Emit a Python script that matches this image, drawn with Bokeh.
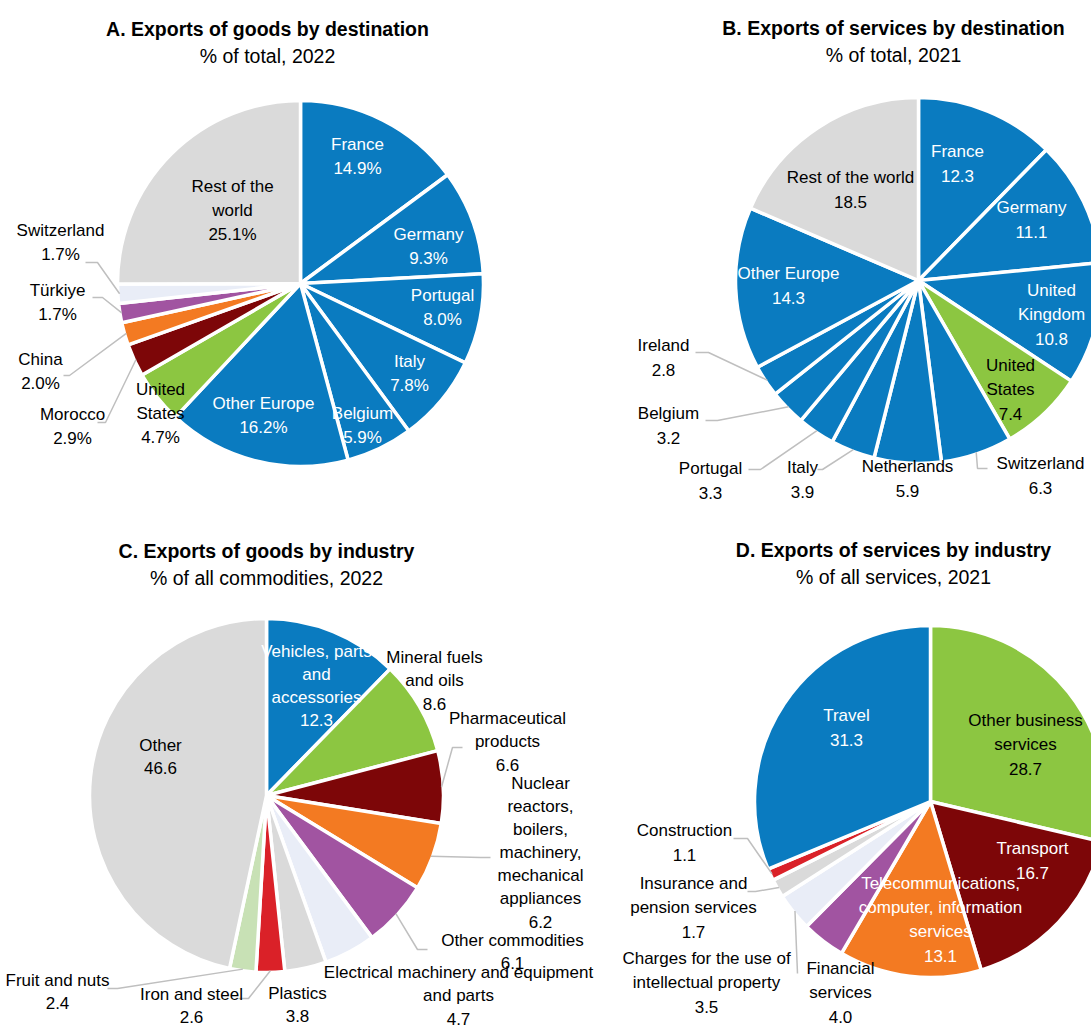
import math
from bokeh.plotting import figure
from bokeh.models import Range1d, ColumnDataSource
from bokeh.core.properties import value
from bokeh.embed import file_html
from bokeh.resources import INLINE

# ---------------- data ----------------
a_names = ["France", "Germany", "Portugal", "Italy", "Belgium", "Other Europe",
           "United\nStates", "Morocco", "China", "Türkiye", "Switzerland", "Rest of the\nworld"]
a_values = [14.9, 9.3, 8.0, 7.8, 5.9, 16.2, 4.7, 2.9, 2.0, 1.7, 1.7, 25.1]

b_names = ["France", "Germany", "United\nKingdom", "United\nStates", "Switzerland", "Netherlands",
           "Italy", "Portugal", "Belgium", "Ireland", "Other Europe", "Rest of the world"]
b_values = [12.3, 11.1, 10.8, 7.4, 6.3, 5.9, 3.9, 3.3, 3.2, 2.8, 14.3, 18.5]

c_names = ["Vehicles, parts\nand\naccessories", "Mineral fuels\nand oils", "Pharmaceutical\nproducts",
           "Nuclear\nreactors,\nboilers,\nmachinery,\nmechanical\nappliances", "Other commodities",
           "Electrical machinery and equipment\nand parts", "Plastics", "Iron and steel",
           "Fruit and nuts", "Other"]
c_values = [12.3, 8.6, 6.6, 6.2, 6.1, 4.7, 3.8, 2.6, 2.4, 46.6]

d_names = ["Other business\nservices", "Transport", "Telecommunications,\ncomputer, information\nservices",
           "Financial\nservices", "Charges for the use of\nintellectual property", "Insurance and\npension services",
           "Construction", "Travel"]
d_values = [28.7, 16.7, 13.1, 4.0, 3.5, 1.7, 1.1, 31.3]

titles = ["A. Exports of goods by destination", "B. Exports of services by destination",
          "C. Exports of goods by industry", "D. Exports of services by industry"]
subtitles = ["% of total, 2022", "% of total, 2021", "% of all commodities, 2022", "% of all services, 2021"]

# ---------------- styles / layout ----------------
BLUE = "#0A7BC0"
GREEN = "#8CC641"
DRED = "#7D0608"
ORANGE = "#F37A22"
PURPLE = "#A154A1"
LAV = "#E9EDF7"
GRAY = "#DADADA"
RED = "#DA2128"
LGREEN = "#C8E1B5"
LEADER = "#BFBFBF"
FONT = "Liberation Sans"

W, H = 1091, 1029
p = figure(width=W, height=H, output_backend="svg", toolbar_location=None,
           x_range=Range1d(0, W), y_range=Range1d(-H, 0),
           min_border=0, outline_line_color=None, background_fill_color="white",
           border_fill_color="white")
p.axis.visible = False
p.grid.visible = False

pies = [
    dict(names=a_names, values=a_values, fmt="{:.1f}%", cx=300, cy=283, r=183, lh=24,
         colors=[BLUE] * 6 + [GREEN, DRED, ORANGE, PURPLE, LAV, GRAY],
         tcolors=["white"] * 6 + ["black"] * 6,
         pos=[(357, 156), (428, 246), (442, 307), (409, 373), (362, 425), (263, 415),
              (160, 413), (72, 426), (40, 371), (57, 302), (60, 242), (232, 210)],
         leaders={7: [(105, 422), (97, 422)], 8: [(69, 375), (63, 375)],
                  9: [(102, 297), (92, 297)], 10: [(97, 262), (85, 262)]},
         title_xy=(267, 28)),
    dict(names=b_names, values=b_values, fmt="{:.1f}", cx=918, cy=280, r=183, lh=24,
         colors=[BLUE, BLUE, BLUE, GREEN] + [BLUE] * 7 + [GRAY],
         tcolors=["white"] * 3 + ["black"] * 7 + ["white", "black"],
         pos=[(957, 163), (1031, 219), (1051, 314), (1010, 389), (1040, 475), (907, 478),
              (802, 479), (710, 480), (668, 425), (663, 357), (788, 285), (850, 189)],
         leaders={4: [(977, 468), (987, 468)], 6: [(822, 469), (817, 469)],
                  7: [(760, 469), (748, 469)], 8: [(717, 420), (705, 420)],
                  9: [(708, 352), (695, 352)]},
         title_xy=(893, 27)),
    dict(names=c_names, values=c_values, fmt="{:.1f}", cx=266, cy=795, r=177, lh=23,
         colors=[BLUE, GREEN, DRED, ORANGE, PURPLE, LAV, GRAY, RED, LGREEN, GRAY],
         tcolors=["white"] + ["black"] * 9,
         pos=[(316, 685), (434, 680), (507, 741), (540, 852), (512, 951), (458, 995),
              (297, 1004), (191, 1005), (57, 991), (160, 756)],
         leaders={2: [(452, 747), (462, 747)], 3: [(480, 857), (490, 857)],
                  4: [(417, 949), (427, 949)], 7: [(248, 998), (238, 998)],
                  8: [(117, 988), (107, 988)]},
         title_xy=(266, 550)),
    dict(names=d_names, values=d_values, fmt="{:.1f}", cx=930, cy=801, r=176, lh=24,
         colors=[GREEN, DRED, ORANGE, PURPLE, LAV, GRAY, RED, BLUE],
         tcolors=["black", "white", "white"] + ["black"] * 4 + ["white"],
         pos=[(1025, 744), (1032, 860), (940, 919), (840, 992), (706, 982), (693, 907),
              (684, 842), (846, 727)],
         leaders={4: [(797, 973)], 5: [(755, 891), (747, 891)], 6: [(747, 838), (733, 838)]},
         title_xy=(893, 549)),
]

tx, ty, tt, tc = [], [], [], []
for k, pie in enumerate(pies):
    vals = pie["values"]
    total = sum(vals)
    cum = 0.0
    starts, ends, mids = [], [], []
    for v in vals:
        a0 = cum / total
        cum += v
        a1 = cum / total
        starts.append(math.pi / 2 - 2 * math.pi * a1)
        ends.append(math.pi / 2 - 2 * math.pi * a0)
        mids.append(2 * math.pi * (a0 + a1) / 2)  # clockwise from top
    src = ColumnDataSource(dict(x=[pie["cx"]] * len(vals), y=[-pie["cy"]] * len(vals),
                                start=starts, end=ends, color=pie["colors"]))
    p.wedge(x="x", y="y", radius=pie["r"], start_angle="start", end_angle="end",
            fill_color="color", line_color="white", line_width=3.5, source=src)
    # leader lines
    for idx, pts in pie["leaders"].items():
        th = mids[idx]
        sx = pie["cx"] + pie["r"] * 0.99 * math.sin(th)
        sy = pie["cy"] - pie["r"] * 0.99 * math.cos(th)
        xs = [sx] + [q[0] for q in pts]
        ys = [-sy] + [-q[1] for q in pts]
        p.line(xs, ys, line_color=LEADER, line_width=1.5)
    # labels
    for i, (name, v) in enumerate(zip(pie["names"], vals)):
        lines = name.split("\n") + [pie["fmt"].format(v)]
        n = len(lines)
        xc, yc = pie["pos"][i]
        for j, ln in enumerate(lines):
            tx.append(xc)
            ty.append(-(yc + (j - (n - 1) / 2) * pie["lh"]))
            tt.append(ln)
            tc.append(pie["tcolors"][i])

lab = ColumnDataSource(dict(x=tx, y=ty, text=tt, color=tc))
p.text(x="x", y="y", text="text", text_color="color", source=lab, text_align="center",
       text_baseline="middle", text_font=value(FONT), text_font_size="17px")

# titles
ttx = [pie["title_xy"][0] for pie in pies]
tty = [-pie["title_xy"][1] for pie in pies]
p.text(x=ttx, y=tty, text=titles, text_align="center", text_baseline="middle",
       text_font=value(FONT), text_font_size="19.5px", text_font_style="bold", text_color="black")
p.text(x=ttx, y=[y - 27 for y in tty], text=subtitles, text_align="center", text_baseline="middle",
       text_font=value(FONT), text_font_size="19.5px", text_color="black")

open("out.html", "w").write(file_html(p, INLINE))
